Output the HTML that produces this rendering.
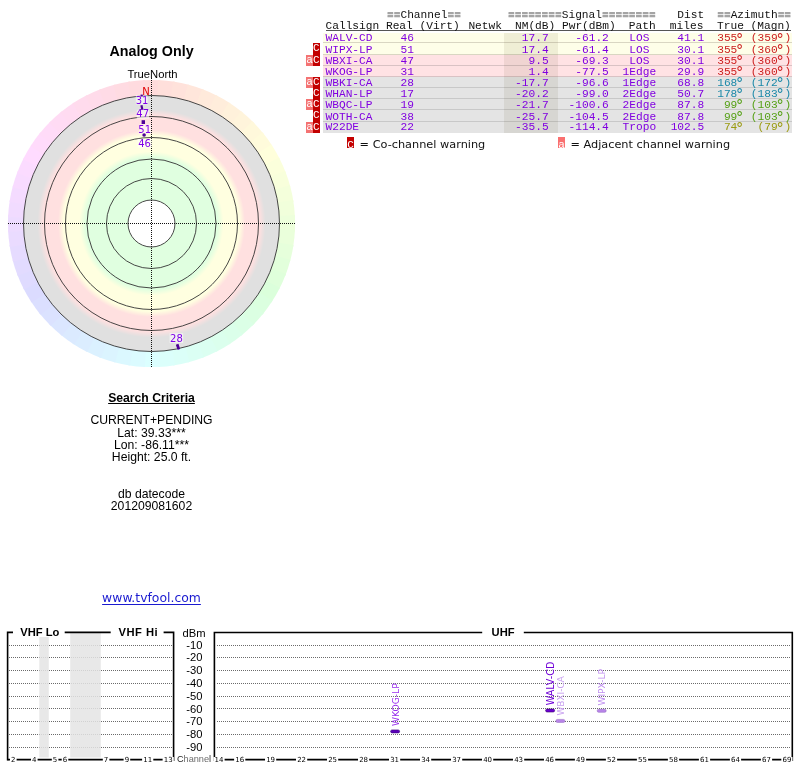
<!DOCTYPE html>
<html><head><meta charset="utf-8"><title>TV Fool Signal Analysis</title><style>
*{margin:0;padding:0}
html,body{width:800px;height:768px;overflow:hidden;background:#fff}
body{position:relative;font-family:'Liberation Sans',Arial,sans-serif;color:#000}
.abs{position:absolute}
#wrap{position:absolute;left:0;top:0;width:800px;height:768px;will-change:transform;background:#fff}
.mono{font-family:'Liberation Mono','DejaVu Sans Mono',monospace;font-size:11.2px;line-height:13px;white-space:pre;color:#111}
.dg{font-family:'DejaVu Sans Mono',monospace;font-size:14.5px;line-height:0;margin-left:-2.03px;letter-spacing:0.02px;position:relative;top:2.4px}
.eq{color:#a4a4a4;font-weight:bold;text-shadow:0 0.8px 0 #a4a4a4}
.pu{color:#8000e0}
.r{text-align:right}
.hd{text-decoration:underline;text-decoration-color:#444;text-underline-offset:1px}
.ctr{left:0;width:303px;text-align:center;line-height:14px;white-space:nowrap}
.bC,.ba,.bC2,.ba2{width:7px;height:11.2px;color:#fff;font-family:'Liberation Mono',monospace;font-size:11px;line-height:11.6px;text-align:center;overflow:hidden}
.bC{background:#c20000}
.ba{background:#f47272}
.bC2{background:#c40000;height:11.4px;line-height:16px;text-align:left;text-indent:0.6px}
.ba2{background:#fa7070;height:11.4px;line-height:16px;text-align:left;text-indent:0.6px}
.leg{font-family:'DejaVu Sans',Verdana,sans-serif;font-size:11.3px;line-height:14px;white-space:nowrap;color:#111}
</style></head><body><div id="wrap">
<svg class="abs" style="left:0;top:0" width="304" height="372" viewBox="0 0 304 372">
<defs><radialGradient id="rg" cx="151.5" cy="223.5" r="128" gradientUnits="userSpaceOnUse">
<stop offset="0.0000" stop-color="#e0ffe0"/>
<stop offset="0.5156" stop-color="#e0ffe0"/>
<stop offset="0.5625" stop-color="#ffffe0"/>
<stop offset="0.6875" stop-color="#ffffe0"/>
<stop offset="0.7305" stop-color="#ffe0e0"/>
<stop offset="0.8438" stop-color="#ffe0e0"/>
<stop offset="0.8906" stop-color="#e0e0e0"/>
<stop offset="1.0000" stop-color="#e0e0e0"/>
</radialGradient></defs>
<path d="M151.50 223.50L142.98 80.15A143.6 143.6 0 0 1 160.02 80.15Z" fill="hsl(0,100%,93%)"/>
<path d="M151.50 223.50L158.01 80.05A143.6 143.6 0 0 1 174.95 81.83Z" fill="hsl(6,100%,93%)"/>
<path d="M151.50 223.50L172.97 81.51A143.6 143.6 0 0 1 189.63 85.06Z" fill="hsl(12,100%,93%)"/>
<path d="M151.50 223.50L187.70 84.54A143.6 143.6 0 0 1 203.90 89.80Z" fill="hsl(18,100%,93%)"/>
<path d="M151.50 223.50L202.02 89.08A143.6 143.6 0 0 1 217.58 96.01Z" fill="hsl(24,100%,93%)"/>
<path d="M151.50 223.50L215.80 95.10A143.6 143.6 0 0 1 230.55 103.62Z" fill="hsl(30,100%,93%)"/>
<path d="M151.50 223.50L228.87 102.52A143.6 143.6 0 0 1 242.65 112.54Z" fill="hsl(36,100%,93%)"/>
<path d="M151.50 223.50L241.09 111.27A143.6 143.6 0 0 1 253.75 122.67Z" fill="hsl(42,100%,93%)"/>
<path d="M151.50 223.50L252.33 121.25A143.6 143.6 0 0 1 263.73 133.91Z" fill="hsl(48,100%,93%)"/>
<path d="M151.50 223.50L262.46 132.35A143.6 143.6 0 0 1 272.48 146.13Z" fill="hsl(54,100%,93%)"/>
<path d="M151.50 223.50L271.38 144.45A143.6 143.6 0 0 1 279.90 159.20Z" fill="hsl(60,100%,93%)"/>
<path d="M151.50 223.50L278.99 157.42A143.6 143.6 0 0 1 285.92 172.98Z" fill="hsl(66,100%,93%)"/>
<path d="M151.50 223.50L285.20 171.10A143.6 143.6 0 0 1 290.46 187.30Z" fill="hsl(72,100%,93%)"/>
<path d="M151.50 223.50L289.94 185.37A143.6 143.6 0 0 1 293.49 202.03Z" fill="hsl(78,100%,93%)"/>
<path d="M151.50 223.50L293.17 200.05A143.6 143.6 0 0 1 294.95 216.99Z" fill="hsl(84,100%,93%)"/>
<path d="M151.50 223.50L294.85 214.98A143.6 143.6 0 0 1 294.85 232.02Z" fill="hsl(90,100%,93%)"/>
<path d="M151.50 223.50L294.95 230.01A143.6 143.6 0 0 1 293.17 246.95Z" fill="hsl(96,100%,93%)"/>
<path d="M151.50 223.50L293.49 244.97A143.6 143.6 0 0 1 289.94 261.63Z" fill="hsl(102,100%,93%)"/>
<path d="M151.50 223.50L290.46 259.70A143.6 143.6 0 0 1 285.20 275.90Z" fill="hsl(108,100%,93%)"/>
<path d="M151.50 223.50L285.92 274.02A143.6 143.6 0 0 1 278.99 289.58Z" fill="hsl(114,100%,93%)"/>
<path d="M151.50 223.50L279.90 287.80A143.6 143.6 0 0 1 271.38 302.55Z" fill="hsl(120,100%,93%)"/>
<path d="M151.50 223.50L272.48 300.87A143.6 143.6 0 0 1 262.46 314.65Z" fill="hsl(126,100%,93%)"/>
<path d="M151.50 223.50L263.73 313.09A143.6 143.6 0 0 1 252.33 325.75Z" fill="hsl(132,100%,93%)"/>
<path d="M151.50 223.50L253.75 324.33A143.6 143.6 0 0 1 241.09 335.73Z" fill="hsl(138,100%,93%)"/>
<path d="M151.50 223.50L242.65 334.46A143.6 143.6 0 0 1 228.87 344.48Z" fill="hsl(144,100%,93%)"/>
<path d="M151.50 223.50L230.55 343.38A143.6 143.6 0 0 1 215.80 351.90Z" fill="hsl(150,100%,93%)"/>
<path d="M151.50 223.50L217.58 350.99A143.6 143.6 0 0 1 202.02 357.92Z" fill="hsl(156,100%,93%)"/>
<path d="M151.50 223.50L203.90 357.20A143.6 143.6 0 0 1 187.70 362.46Z" fill="hsl(162,100%,93%)"/>
<path d="M151.50 223.50L189.63 361.94A143.6 143.6 0 0 1 172.97 365.49Z" fill="hsl(168,100%,93%)"/>
<path d="M151.50 223.50L174.95 365.17A143.6 143.6 0 0 1 158.01 366.95Z" fill="hsl(174,100%,93%)"/>
<path d="M151.50 223.50L160.02 366.85A143.6 143.6 0 0 1 142.98 366.85Z" fill="hsl(180,100%,93%)"/>
<path d="M151.50 223.50L144.99 366.95A143.6 143.6 0 0 1 128.05 365.17Z" fill="hsl(186,100%,93%)"/>
<path d="M151.50 223.50L130.03 365.49A143.6 143.6 0 0 1 113.37 361.94Z" fill="hsl(192,100%,93%)"/>
<path d="M151.50 223.50L115.30 362.46A143.6 143.6 0 0 1 99.10 357.20Z" fill="hsl(198,100%,93%)"/>
<path d="M151.50 223.50L100.98 357.92A143.6 143.6 0 0 1 85.42 350.99Z" fill="hsl(204,100%,93%)"/>
<path d="M151.50 223.50L87.20 351.90A143.6 143.6 0 0 1 72.45 343.38Z" fill="hsl(210,100%,93%)"/>
<path d="M151.50 223.50L74.13 344.48A143.6 143.6 0 0 1 60.35 334.46Z" fill="hsl(216,100%,93%)"/>
<path d="M151.50 223.50L61.91 335.73A143.6 143.6 0 0 1 49.25 324.33Z" fill="hsl(222,100%,93%)"/>
<path d="M151.50 223.50L50.67 325.75A143.6 143.6 0 0 1 39.27 313.09Z" fill="hsl(228,100%,93%)"/>
<path d="M151.50 223.50L40.54 314.65A143.6 143.6 0 0 1 30.52 300.87Z" fill="hsl(234,100%,93%)"/>
<path d="M151.50 223.50L31.62 302.55A143.6 143.6 0 0 1 23.10 287.80Z" fill="hsl(240,100%,93%)"/>
<path d="M151.50 223.50L24.01 289.58A143.6 143.6 0 0 1 17.08 274.02Z" fill="hsl(246,100%,93%)"/>
<path d="M151.50 223.50L17.80 275.90A143.6 143.6 0 0 1 12.54 259.70Z" fill="hsl(252,100%,93%)"/>
<path d="M151.50 223.50L13.06 261.63A143.6 143.6 0 0 1 9.51 244.97Z" fill="hsl(258,100%,93%)"/>
<path d="M151.50 223.50L9.83 246.95A143.6 143.6 0 0 1 8.05 230.01Z" fill="hsl(264,100%,93%)"/>
<path d="M151.50 223.50L8.15 232.02A143.6 143.6 0 0 1 8.15 214.98Z" fill="hsl(270,100%,93%)"/>
<path d="M151.50 223.50L8.05 216.99A143.6 143.6 0 0 1 9.83 200.05Z" fill="hsl(276,100%,93%)"/>
<path d="M151.50 223.50L9.51 202.03A143.6 143.6 0 0 1 13.06 185.37Z" fill="hsl(282,100%,93%)"/>
<path d="M151.50 223.50L12.54 187.30A143.6 143.6 0 0 1 17.80 171.10Z" fill="hsl(288,100%,93%)"/>
<path d="M151.50 223.50L17.08 172.98A143.6 143.6 0 0 1 24.01 157.42Z" fill="hsl(294,100%,93%)"/>
<path d="M151.50 223.50L23.10 159.20A143.6 143.6 0 0 1 31.62 144.45Z" fill="hsl(300,100%,93%)"/>
<path d="M151.50 223.50L30.52 146.13A143.6 143.6 0 0 1 40.54 132.35Z" fill="hsl(306,100%,93%)"/>
<path d="M151.50 223.50L39.27 133.91A143.6 143.6 0 0 1 50.67 121.25Z" fill="hsl(312,100%,93%)"/>
<path d="M151.50 223.50L49.25 122.67A143.6 143.6 0 0 1 61.91 111.27Z" fill="hsl(318,100%,93%)"/>
<path d="M151.50 223.50L60.35 112.54A143.6 143.6 0 0 1 74.13 102.52Z" fill="hsl(324,100%,93%)"/>
<path d="M151.50 223.50L72.45 103.62A143.6 143.6 0 0 1 87.20 95.10Z" fill="hsl(330,100%,93%)"/>
<path d="M151.50 223.50L85.42 96.01A143.6 143.6 0 0 1 100.98 89.08Z" fill="hsl(336,100%,93%)"/>
<path d="M151.50 223.50L99.10 89.80A143.6 143.6 0 0 1 115.30 84.54Z" fill="hsl(342,100%,93%)"/>
<path d="M151.50 223.50L113.37 85.06A143.6 143.6 0 0 1 130.03 81.51Z" fill="hsl(348,100%,93%)"/>
<path d="M151.50 223.50L128.05 81.83A143.6 143.6 0 0 1 144.99 80.05Z" fill="hsl(354,100%,93%)"/>
<circle cx="151.5" cy="223.5" r="128" fill="url(#rg)"/>
<circle cx="151.5" cy="223.5" r="23.5" fill="#fff"/>
<circle cx="151.5" cy="223.5" r="23.5" fill="none" stroke="#333" stroke-width="0.9"/>
<circle cx="151.5" cy="223.5" r="45.0" fill="none" stroke="#333" stroke-width="0.9"/>
<circle cx="151.5" cy="223.5" r="64.5" fill="none" stroke="#333" stroke-width="0.9"/>
<circle cx="151.5" cy="223.5" r="86.0" fill="none" stroke="#333" stroke-width="0.9"/>
<circle cx="151.5" cy="223.5" r="107.0" fill="none" stroke="#333" stroke-width="0.9"/>
<circle cx="151.5" cy="223.5" r="128.0" fill="none" stroke="#333" stroke-width="0.9"/>
<line x1="8" y1="223.5" x2="296" y2="223.5" stroke="#111" stroke-width="1" stroke-dasharray="1 1"/>
<line x1="151.5" y1="78" x2="151.5" y2="367" stroke="#111" stroke-width="1" stroke-dasharray="1 1"/>
<rect x="135.8" y="95.1" width="11.8" height="9.4" fill="#fff" fill-opacity="0.55"/>
<rect x="136.8" y="110.2" width="12.2" height="8.4" fill="#fff" fill-opacity="0.55"/>
<rect x="139.0" y="124.6" width="12.0" height="9.0" fill="#fff" fill-opacity="0.55"/>
<rect x="137.6" y="138.8" width="14.0" height="8.8" fill="#fff" fill-opacity="0.55"/>
<rect x="169.6" y="333.2" width="13.6" height="9.8" fill="#fff" fill-opacity="0.55"/>
<rect x="140.6" y="94.6" width="2.2" height="1.8" fill="#4c0096"/>
<rect x="140.8" y="105.2" width="2.2" height="4.6" fill="#4c0096" transform="rotate(-12 141.9 107.5)"/>
<rect x="141.6" y="120.2" width="3.4" height="3.8" fill="#4c0096"/>
<circle cx="144.1" cy="135" r="1.8" fill="#4c0096"/>
<rect x="176.6" y="344" width="2.8" height="5.6" rx="0.6" fill="#4c0096" transform="rotate(-18 178 346.8)"/>
<text x="146.1" y="94.6" text-anchor="middle" fill="#e00000" style="font-family:DejaVu Sans,sans-serif;font-size:10px">N</text>
<text x="142.0" y="103.9" text-anchor="middle" fill="#8000e8" style="font-family:DejaVu Sans,sans-serif;font-size:10px">31</text>
<text x="142.7" y="117.3" text-anchor="middle" fill="#8000e8" style="font-family:DejaVu Sans,sans-serif;font-size:10px">47</text>
<text x="144.7" y="132.8" text-anchor="middle" fill="#8000e8" style="font-family:DejaVu Sans,sans-serif;font-size:10px">51</text>
<text x="144.5" y="146.5" text-anchor="middle" fill="#8000e8" style="font-family:DejaVu Sans,sans-serif;font-size:10px">46</text>
<text x="176.4" y="341.8" text-anchor="middle" fill="#8000e8" style="font-family:DejaVu Sans,sans-serif;font-size:10px">28</text>
</svg>
<div class="abs ctr" style="top:43px;font:bold 14.3px 'Liberation Sans',Arial,sans-serif">Analog Only</div>
<div class="abs ctr" style="top:67.9px;left:1px;font:11.25px 'Liberation Sans',Arial,sans-serif">TrueNorth</div>
<div class="abs ctr" style="top:391px;font:bold 12.2px 'Liberation Sans',Arial,sans-serif;text-decoration:underline">Search Criteria</div>
<div class="abs ctr" style="top:413.0px;font:12.2px 'Liberation Sans',Arial,sans-serif">CURRENT+PENDING</div>
<div class="abs ctr" style="top:425.6px;font:12.2px 'Liberation Sans',Arial,sans-serif">Lat: 39.33***</div>
<div class="abs ctr" style="top:437.8px;font:12.2px 'Liberation Sans',Arial,sans-serif">Lon: -86.11***</div>
<div class="abs ctr" style="top:449.5px;font:12.2px 'Liberation Sans',Arial,sans-serif">Height: 25.0 ft.</div>
<div class="abs ctr" style="top:486.5px;font:12.2px 'Liberation Sans',Arial,sans-serif">db datecode</div>
<div class="abs ctr" style="top:499.0px;font:12.2px 'Liberation Sans',Arial,sans-serif">201209081602</div>
<div class="abs ctr" style="top:590px;font:12.4px 'DejaVu Sans',Verdana,sans-serif"><a href="#" style="color:#1a1ad0;text-decoration:underline;text-underline-offset:1.5px">www.tvfool.com</a></div>
<div class="mono abs" style="left:387px;top:9.2px"><span class="eq">==</span>Channel<span class="eq">==</span></div>
<div class="mono abs" style="left:508px;top:9.2px"><span class="eq">========</span>Signal<span class="eq">========</span></div>
<div class="mono abs r" style="right:95.8px;top:9.2px">Dist</div>
<div class="mono abs" style="left:717.2px;top:9.2px"><span class="eq">==</span>Azimuth<span class="eq">==</span></div>
<div class="abs" style="left:326px;top:30px;width:465px;height:1px;background:#555"></div><div class="mono abs" style="left:325.5px;top:19.5px">Callsign Real (Virt)<span style="display:inline-block;width:8.6px"></span>Netwk<span style="display:inline-block;width:13.0px"></span>NM(dB) Pwr(dBm)<span style="display:inline-block;width:13.2px"></span>Path<span style="display:inline-block;width:14.1px"></span>miles<span style="display:inline-block;width:13.6px"></span>True (Magn)</div>
<div class="abs" style="left:323px;top:32.50px;width:468.5px;height:10.50px;background:#fefee8;border-bottom:1px solid #d9d6c2;box-sizing:border-box"></div>
<div class="abs" style="left:504px;top:32.50px;width:53.6px;height:10.50px;background:rgba(60,50,0,0.08)"></div>
<div class="mono abs pu" style="top:32.40px;left:325.5px">WALV-CD</div>
<div class="mono abs pu r" style="top:32.40px;right:386.0px">46</div>
<div class="mono abs pu r" style="top:32.40px;right:251.4px">17.7</div>
<div class="mono abs pu r" style="top:32.40px;right:191.2px">-61.2</div>
<div class="mono abs pu" style="top:32.40px;left:622.6px;width:33.6px;text-align:center">LOS</div>
<div class="mono abs pu r" style="top:32.40px;right:95.8px">41.1</div>
<div class="mono abs" style="top:32.40px;left:717.2px;color:#cc2020">355<span class="dg">&deg;</span> (359<span class="dg">&deg;</span>)</div>
<div class="abs" style="left:323px;top:43.00px;width:468.5px;height:12.00px;background:#fefee8;border-bottom:1px solid #d9d6c2;box-sizing:border-box"></div>
<div class="abs" style="left:504px;top:43.00px;width:53.6px;height:12.00px;background:rgba(60,50,0,0.08)"></div>
<div class="mono abs pu" style="top:43.90px;left:325.5px">WIPX-LP</div>
<div class="mono abs pu r" style="top:43.90px;right:386.0px">51</div>
<div class="mono abs pu r" style="top:43.90px;right:251.4px">17.4</div>
<div class="mono abs pu r" style="top:43.90px;right:191.2px">-61.4</div>
<div class="mono abs pu" style="top:43.90px;left:622.6px;width:33.6px;text-align:center">LOS</div>
<div class="mono abs pu r" style="top:43.90px;right:95.8px">30.1</div>
<div class="mono abs" style="top:43.90px;left:717.2px;color:#cc2020">355<span class="dg">&deg;</span> (360<span class="dg">&deg;</span>)</div>
<div class="abs bC" style="left:312.9px;top:43.00px;height:12.00px">C</div>
<div class="abs" style="left:323px;top:55.00px;width:468.5px;height:11.00px;background:#ffe2e4;border-bottom:1px solid #d9c2c4;box-sizing:border-box"></div>
<div class="abs" style="left:504px;top:55.00px;width:53.6px;height:11.00px;background:rgba(60,50,0,0.08)"></div>
<div class="mono abs pu" style="top:54.80px;left:325.5px">WBXI-CA</div>
<div class="mono abs pu r" style="top:54.80px;right:386.0px">47</div>
<div class="mono abs pu r" style="top:54.80px;right:251.4px">9.5</div>
<div class="mono abs pu r" style="top:54.80px;right:191.2px">-69.3</div>
<div class="mono abs pu" style="top:54.80px;left:622.6px;width:33.6px;text-align:center">LOS</div>
<div class="mono abs pu r" style="top:54.80px;right:95.8px">30.1</div>
<div class="mono abs" style="top:54.80px;left:717.2px;color:#cc2020">355<span class="dg">&deg;</span> (360<span class="dg">&deg;</span>)</div>
<div class="abs bC" style="left:312.9px;top:55.00px;height:11.00px">C</div>
<div class="abs ba" style="left:306px;top:55.00px;height:11.00px">a</div>
<div class="abs" style="left:323px;top:66.00px;width:468.5px;height:11.00px;background:#ffe2e4;border-bottom:1px solid #d9c2c4;box-sizing:border-box"></div>
<div class="abs" style="left:504px;top:66.00px;width:53.6px;height:11.00px;background:rgba(60,50,0,0.08)"></div>
<div class="mono abs pu" style="top:65.90px;left:325.5px">WKOG-LP</div>
<div class="mono abs pu r" style="top:65.90px;right:386.0px">31</div>
<div class="mono abs pu r" style="top:65.90px;right:251.4px">1.4</div>
<div class="mono abs pu r" style="top:65.90px;right:191.2px">-77.5</div>
<div class="mono abs pu" style="top:65.90px;left:622.6px;width:33.6px;text-align:center">1Edge</div>
<div class="mono abs pu r" style="top:65.90px;right:95.8px">29.9</div>
<div class="mono abs" style="top:65.90px;left:717.2px;color:#cc2020">355<span class="dg">&deg;</span> (360<span class="dg">&deg;</span>)</div>
<div class="abs" style="left:323px;top:77.00px;width:468.5px;height:11.00px;background:#e4e4e4;border-bottom:1px solid #c8c8c8;box-sizing:border-box"></div>
<div class="abs" style="left:504px;top:77.00px;width:53.6px;height:11.00px;background:rgba(60,50,0,0.08)"></div>
<div class="mono abs pu" style="top:76.80px;left:325.5px">WBKI-CA</div>
<div class="mono abs pu r" style="top:76.80px;right:386.0px">28</div>
<div class="mono abs pu r" style="top:76.80px;right:251.4px">-17.7</div>
<div class="mono abs pu r" style="top:76.80px;right:191.2px">-96.6</div>
<div class="mono abs pu" style="top:76.80px;left:622.6px;width:33.6px;text-align:center">1Edge</div>
<div class="mono abs pu r" style="top:76.80px;right:95.8px">68.8</div>
<div class="mono abs" style="top:76.80px;left:717.2px;color:#1a88a8">168<span class="dg">&deg;</span> (172<span class="dg">&deg;</span>)</div>
<div class="abs bC" style="left:312.9px;top:77.00px;height:11.00px">C</div>
<div class="abs ba" style="left:306px;top:77.00px;height:11.00px">a</div>
<div class="abs" style="left:323px;top:88.00px;width:468.5px;height:11.00px;background:#e4e4e4;border-bottom:1px solid #c8c8c8;box-sizing:border-box"></div>
<div class="abs" style="left:504px;top:88.00px;width:53.6px;height:11.00px;background:rgba(60,50,0,0.08)"></div>
<div class="mono abs pu" style="top:87.80px;left:325.5px">WHAN-LP</div>
<div class="mono abs pu r" style="top:87.80px;right:386.0px">17</div>
<div class="mono abs pu r" style="top:87.80px;right:251.4px">-20.2</div>
<div class="mono abs pu r" style="top:87.80px;right:191.2px">-99.0</div>
<div class="mono abs pu" style="top:87.80px;left:622.6px;width:33.6px;text-align:center">2Edge</div>
<div class="mono abs pu r" style="top:87.80px;right:95.8px">50.7</div>
<div class="mono abs" style="top:87.80px;left:717.2px;color:#1a88a8">178<span class="dg">&deg;</span> (183<span class="dg">&deg;</span>)</div>
<div class="abs bC" style="left:312.9px;top:88.00px;height:11.00px">C</div>
<div class="abs" style="left:323px;top:99.00px;width:468.5px;height:11.00px;background:#e4e4e4;border-bottom:1px solid #c8c8c8;box-sizing:border-box"></div>
<div class="abs" style="left:504px;top:99.00px;width:53.6px;height:11.00px;background:rgba(60,50,0,0.08)"></div>
<div class="mono abs pu" style="top:99.00px;left:325.5px">WBQC-LP</div>
<div class="mono abs pu r" style="top:99.00px;right:386.0px">19</div>
<div class="mono abs pu r" style="top:99.00px;right:251.4px">-21.7</div>
<div class="mono abs pu r" style="top:99.00px;right:191.2px">-100.6</div>
<div class="mono abs pu" style="top:99.00px;left:622.6px;width:33.6px;text-align:center">2Edge</div>
<div class="mono abs pu r" style="top:99.00px;right:95.8px">87.8</div>
<div class="mono abs" style="top:99.00px;left:717.2px;color:#55a015"> 99<span class="dg">&deg;</span> (103<span class="dg">&deg;</span>)</div>
<div class="abs bC" style="left:312.9px;top:99.00px;height:11.00px">C</div>
<div class="abs ba" style="left:306px;top:99.00px;height:11.00px">a</div>
<div class="abs" style="left:323px;top:110.00px;width:468.5px;height:12.00px;background:#e4e4e4;border-bottom:1px solid #c8c8c8;box-sizing:border-box"></div>
<div class="abs" style="left:504px;top:110.00px;width:53.6px;height:12.00px;background:rgba(60,50,0,0.08)"></div>
<div class="mono abs pu" style="top:110.50px;left:325.5px">WOTH-CA</div>
<div class="mono abs pu r" style="top:110.50px;right:386.0px">38</div>
<div class="mono abs pu r" style="top:110.50px;right:251.4px">-25.7</div>
<div class="mono abs pu r" style="top:110.50px;right:191.2px">-104.5</div>
<div class="mono abs pu" style="top:110.50px;left:622.6px;width:33.6px;text-align:center">2Edge</div>
<div class="mono abs pu r" style="top:110.50px;right:95.8px">87.8</div>
<div class="mono abs" style="top:110.50px;left:717.2px;color:#55a015"> 99<span class="dg">&deg;</span> (103<span class="dg">&deg;</span>)</div>
<div class="abs bC" style="left:312.9px;top:110.00px;height:12.00px">C</div>
<div class="abs" style="left:323px;top:122.00px;width:468.5px;height:11.00px;background:#e4e4e4;box-sizing:border-box"></div>
<div class="abs" style="left:504px;top:122.00px;width:53.6px;height:11.00px;background:rgba(60,50,0,0.08)"></div>
<div class="mono abs pu" style="top:121.40px;left:325.5px">W22DE</div>
<div class="mono abs pu r" style="top:121.40px;right:386.0px">22</div>
<div class="mono abs pu r" style="top:121.40px;right:251.4px">-35.5</div>
<div class="mono abs pu r" style="top:121.40px;right:191.2px">-114.4</div>
<div class="mono abs pu" style="top:121.40px;left:622.6px;width:33.6px;text-align:center">Tropo</div>
<div class="mono abs pu r" style="top:121.40px;right:95.8px">102.5</div>
<div class="mono abs" style="top:121.40px;left:717.2px;color:#9a9a10"> 74<span class="dg">&deg;</span>  (79<span class="dg">&deg;</span>)</div>
<div class="abs bC" style="left:312.9px;top:122.00px;height:11.00px">C</div>
<div class="abs ba" style="left:306px;top:122.00px;height:11.00px">a</div>
<div class="abs bC2" style="left:346.6px;top:136.9px">C</div>
<div class="abs leg" style="left:359.6px;top:137.8px">= Co-channel warning</div>
<div class="abs ba2" style="left:557.6px;top:136.9px">a</div>
<div class="abs leg" style="left:570.4px;top:137.8px">= Adjacent channel warning</div>
<svg class="abs" style="left:0;top:615px" width="800" height="153" viewBox="0 615 800 153">
<line x1="9" y1="645.5" x2="172.5" y2="645.5" stroke="#6a6a6a" stroke-dasharray="1 1"/>
<line x1="217" y1="645.5" x2="791" y2="645.5" stroke="#6a6a6a" stroke-dasharray="1 1"/>
<line x1="9" y1="657.5" x2="172.5" y2="657.5" stroke="#6a6a6a" stroke-dasharray="1 1"/>
<line x1="217" y1="657.5" x2="791" y2="657.5" stroke="#6a6a6a" stroke-dasharray="1 1"/>
<line x1="9" y1="670.5" x2="172.5" y2="670.5" stroke="#6a6a6a" stroke-dasharray="1 1"/>
<line x1="217" y1="670.5" x2="791" y2="670.5" stroke="#6a6a6a" stroke-dasharray="1 1"/>
<line x1="9" y1="683.5" x2="172.5" y2="683.5" stroke="#6a6a6a" stroke-dasharray="1 1"/>
<line x1="217" y1="683.5" x2="791" y2="683.5" stroke="#6a6a6a" stroke-dasharray="1 1"/>
<line x1="9" y1="696.5" x2="172.5" y2="696.5" stroke="#6a6a6a" stroke-dasharray="1 1"/>
<line x1="217" y1="696.5" x2="791" y2="696.5" stroke="#6a6a6a" stroke-dasharray="1 1"/>
<line x1="9" y1="708.5" x2="172.5" y2="708.5" stroke="#6a6a6a" stroke-dasharray="1 1"/>
<line x1="217" y1="708.5" x2="791" y2="708.5" stroke="#6a6a6a" stroke-dasharray="1 1"/>
<line x1="9" y1="721.5" x2="172.5" y2="721.5" stroke="#6a6a6a" stroke-dasharray="1 1"/>
<line x1="217" y1="721.5" x2="791" y2="721.5" stroke="#6a6a6a" stroke-dasharray="1 1"/>
<line x1="9" y1="734.5" x2="172.5" y2="734.5" stroke="#6a6a6a" stroke-dasharray="1 1"/>
<line x1="217" y1="734.5" x2="791" y2="734.5" stroke="#6a6a6a" stroke-dasharray="1 1"/>
<line x1="9" y1="747.5" x2="172.5" y2="747.5" stroke="#6a6a6a" stroke-dasharray="1 1"/>
<line x1="217" y1="747.5" x2="791" y2="747.5" stroke="#6a6a6a" stroke-dasharray="1 1"/>
<rect x="39.3" y="637" width="9.5" height="120.5" fill="#e4e4e4" fill-opacity="0.85"/>
<rect x="70.2" y="633" width="30.6" height="124.5" fill="#e4e4e4" fill-opacity="0.85"/>
<path d="M13 632.4H7.6V760.4" stroke="#000" stroke-width="1.6" fill="none"/>
<path d="M64.7 632.4H110.7" stroke="#000" stroke-width="1.6" fill="none"/>
<path d="M163.6 632.4H173.6V761" stroke="#000" stroke-width="1.6" fill="none"/>
<path d="M7.6 759.6H173.6" stroke="#000" stroke-width="1.6" fill="none"/>
<path d="M482.2 632.5H214.4V761" stroke="#000" stroke-width="1.6" fill="none"/>
<path d="M523.8 632.5H792.3V761" stroke="#000" stroke-width="1.6" fill="none"/>
<path d="M214.4 759.6H792.3" stroke="#000" stroke-width="1.6" fill="none"/>
<text x="20.2" y="636.1" style="font-family:Liberation Sans,Arial,sans-serif;font-weight:bold;font-size:11.2px">VHF Lo</text>
<text x="118.5" y="636.1" letter-spacing="0.5" style="font-family:Liberation Sans,Arial,sans-serif;font-weight:bold;font-size:11.2px">VHF Hi</text>
<text x="491.6" y="636" style="font-family:Liberation Sans,Arial,sans-serif;font-weight:bold;font-size:11.2px">UHF</text>
<text x="194" y="636.5" text-anchor="middle" style="font-family:Liberation Sans,Arial,sans-serif;font-size:11.2px">dBm</text>
<text x="194.3" y="648.6" text-anchor="middle" style="font-family:Liberation Sans,Arial,sans-serif;font-size:11.2px">-10</text>
<text x="194.3" y="661.4" text-anchor="middle" style="font-family:Liberation Sans,Arial,sans-serif;font-size:11.2px">-20</text>
<text x="194.3" y="674.2" text-anchor="middle" style="font-family:Liberation Sans,Arial,sans-serif;font-size:11.2px">-30</text>
<text x="194.3" y="687.0" text-anchor="middle" style="font-family:Liberation Sans,Arial,sans-serif;font-size:11.2px">-40</text>
<text x="194.3" y="699.8" text-anchor="middle" style="font-family:Liberation Sans,Arial,sans-serif;font-size:11.2px">-50</text>
<text x="194.3" y="712.6" text-anchor="middle" style="font-family:Liberation Sans,Arial,sans-serif;font-size:11.2px">-60</text>
<text x="194.3" y="725.4" text-anchor="middle" style="font-family:Liberation Sans,Arial,sans-serif;font-size:11.2px">-70</text>
<text x="194.3" y="738.2" text-anchor="middle" style="font-family:Liberation Sans,Arial,sans-serif;font-size:11.2px">-80</text>
<text x="194.3" y="751.0" text-anchor="middle" style="font-family:Liberation Sans,Arial,sans-serif;font-size:11.2px">-90</text>
<text x="194" y="761.6" text-anchor="middle" fill="#222" style="font-family:Liberation Sans,Arial,sans-serif;font-size:9.2px">C<tspan fill="#6a6a6a">hanne</tspan><tspan fill="#333">l</tspan></text>
<rect x="10.0" y="757" width="6.6" height="5" fill="#fff"/>
<text x="13.3" y="761.6" text-anchor="middle" style="font-family:DejaVu Sans,sans-serif;font-size:7px">2</text>
<rect x="31.0" y="757" width="6.6" height="5" fill="#fff"/>
<text x="34.3" y="761.6" text-anchor="middle" style="font-family:DejaVu Sans,sans-serif;font-size:7px">4</text>
<rect x="51.8" y="757" width="6.6" height="5" fill="#fff"/>
<text x="55.1" y="761.6" text-anchor="middle" style="font-family:DejaVu Sans,sans-serif;font-size:7px">5</text>
<rect x="61.7" y="757" width="6.6" height="5" fill="#fff"/>
<text x="65.0" y="761.6" text-anchor="middle" style="font-family:DejaVu Sans,sans-serif;font-size:7px">6</text>
<rect x="102.8" y="757" width="6.6" height="5" fill="#fff"/>
<text x="106.1" y="761.6" text-anchor="middle" style="font-family:DejaVu Sans,sans-serif;font-size:7px">7</text>
<rect x="123.6" y="757" width="6.6" height="5" fill="#fff"/>
<text x="126.9" y="761.6" text-anchor="middle" style="font-family:DejaVu Sans,sans-serif;font-size:7px">9</text>
<rect x="142.1" y="757" width="11.2" height="5" fill="#fff"/>
<text x="147.7" y="761.6" text-anchor="middle" style="font-family:DejaVu Sans,sans-serif;font-size:7px">11</text>
<rect x="162.6" y="757" width="11.2" height="5" fill="#fff"/>
<text x="168.2" y="761.6" text-anchor="middle" style="font-family:DejaVu Sans,sans-serif;font-size:7px">13</text>
<rect x="213.4" y="757" width="11.2" height="5" fill="#fff"/>
<text x="219.0" y="761.6" text-anchor="middle" style="font-family:DejaVu Sans,sans-serif;font-size:7px">14</text>
<rect x="234.1" y="757" width="11.2" height="5" fill="#fff"/>
<text x="239.7" y="761.6" text-anchor="middle" style="font-family:DejaVu Sans,sans-serif;font-size:7px">16</text>
<rect x="265.0" y="757" width="11.2" height="5" fill="#fff"/>
<text x="270.6" y="761.6" text-anchor="middle" style="font-family:DejaVu Sans,sans-serif;font-size:7px">19</text>
<rect x="296.0" y="757" width="11.2" height="5" fill="#fff"/>
<text x="301.6" y="761.6" text-anchor="middle" style="font-family:DejaVu Sans,sans-serif;font-size:7px">22</text>
<rect x="327.0" y="757" width="11.2" height="5" fill="#fff"/>
<text x="332.6" y="761.6" text-anchor="middle" style="font-family:DejaVu Sans,sans-serif;font-size:7px">25</text>
<rect x="358.0" y="757" width="11.2" height="5" fill="#fff"/>
<text x="363.6" y="761.6" text-anchor="middle" style="font-family:DejaVu Sans,sans-serif;font-size:7px">28</text>
<rect x="389.0" y="757" width="11.2" height="5" fill="#fff"/>
<text x="394.6" y="761.6" text-anchor="middle" style="font-family:DejaVu Sans,sans-serif;font-size:7px">31</text>
<rect x="420.0" y="757" width="11.2" height="5" fill="#fff"/>
<text x="425.6" y="761.6" text-anchor="middle" style="font-family:DejaVu Sans,sans-serif;font-size:7px">34</text>
<rect x="451.0" y="757" width="11.2" height="5" fill="#fff"/>
<text x="456.6" y="761.6" text-anchor="middle" style="font-family:DejaVu Sans,sans-serif;font-size:7px">37</text>
<rect x="482.0" y="757" width="11.2" height="5" fill="#fff"/>
<text x="487.6" y="761.6" text-anchor="middle" style="font-family:DejaVu Sans,sans-serif;font-size:7px">40</text>
<rect x="513.0" y="757" width="11.2" height="5" fill="#fff"/>
<text x="518.6" y="761.6" text-anchor="middle" style="font-family:DejaVu Sans,sans-serif;font-size:7px">43</text>
<rect x="544.0" y="757" width="11.2" height="5" fill="#fff"/>
<text x="549.6" y="761.6" text-anchor="middle" style="font-family:DejaVu Sans,sans-serif;font-size:7px">46</text>
<rect x="574.9" y="757" width="11.2" height="5" fill="#fff"/>
<text x="580.5" y="761.6" text-anchor="middle" style="font-family:DejaVu Sans,sans-serif;font-size:7px">49</text>
<rect x="605.9" y="757" width="11.2" height="5" fill="#fff"/>
<text x="611.5" y="761.6" text-anchor="middle" style="font-family:DejaVu Sans,sans-serif;font-size:7px">52</text>
<rect x="636.9" y="757" width="11.2" height="5" fill="#fff"/>
<text x="642.5" y="761.6" text-anchor="middle" style="font-family:DejaVu Sans,sans-serif;font-size:7px">55</text>
<rect x="667.9" y="757" width="11.2" height="5" fill="#fff"/>
<text x="673.5" y="761.6" text-anchor="middle" style="font-family:DejaVu Sans,sans-serif;font-size:7px">58</text>
<rect x="698.9" y="757" width="11.2" height="5" fill="#fff"/>
<text x="704.5" y="761.6" text-anchor="middle" style="font-family:DejaVu Sans,sans-serif;font-size:7px">61</text>
<rect x="729.9" y="757" width="11.2" height="5" fill="#fff"/>
<text x="735.5" y="761.6" text-anchor="middle" style="font-family:DejaVu Sans,sans-serif;font-size:7px">64</text>
<rect x="760.9" y="757" width="11.2" height="5" fill="#fff"/>
<text x="766.5" y="761.6" text-anchor="middle" style="font-family:DejaVu Sans,sans-serif;font-size:7px">67</text>
<rect x="781.3" y="757" width="11.2" height="5" fill="#fff"/>
<text x="786.9" y="761.6" text-anchor="middle" style="font-family:DejaVu Sans,sans-serif;font-size:7px">69</text>
<rect x="390.6" y="729.9" width="9" height="3" rx="1.5" fill="#5a00b8" stroke="#3a0080" stroke-width="0.6"/>
<text transform="translate(398.6 726.1) rotate(-90)" fill="#9a30ee" textLength="42.8" lengthAdjust="spacingAndGlyphs" style="font-family:DejaVu Sans,sans-serif;font-size:9.3px">WKOG-LP</text>
<rect x="545.6" y="709.0" width="9" height="3" rx="1.5" fill="#6a00d0" stroke="#3a0070" stroke-width="0.6"/>
<text transform="translate(553.6 705.2) rotate(-90)" fill="#7000d8" textLength="43.5" lengthAdjust="spacingAndGlyphs" style="font-family:DejaVu Sans,sans-serif;font-size:9.8px">WALV-CD</text>
<rect x="555.9" y="719.4" width="9" height="3" rx="1.5" fill="#b884e8" stroke="#9a70c8" stroke-width="0.6"/>
<text transform="translate(563.9 715.6) rotate(-90)" fill="#c8a0f0" textLength="39.5" lengthAdjust="spacingAndGlyphs" style="font-family:DejaVu Sans,sans-serif;font-size:9.2px">WBXI-CA</text>
<rect x="597.2" y="709.3" width="9" height="3" rx="1.5" fill="#b884e8" stroke="#9a70c8" stroke-width="0.6"/>
<text transform="translate(605.2 705.5) rotate(-90)" fill="#c090f0" textLength="36.5" lengthAdjust="spacingAndGlyphs" style="font-family:DejaVu Sans,sans-serif;font-size:9.2px">WIPX-LP</text>
</svg>
</div></body></html>
